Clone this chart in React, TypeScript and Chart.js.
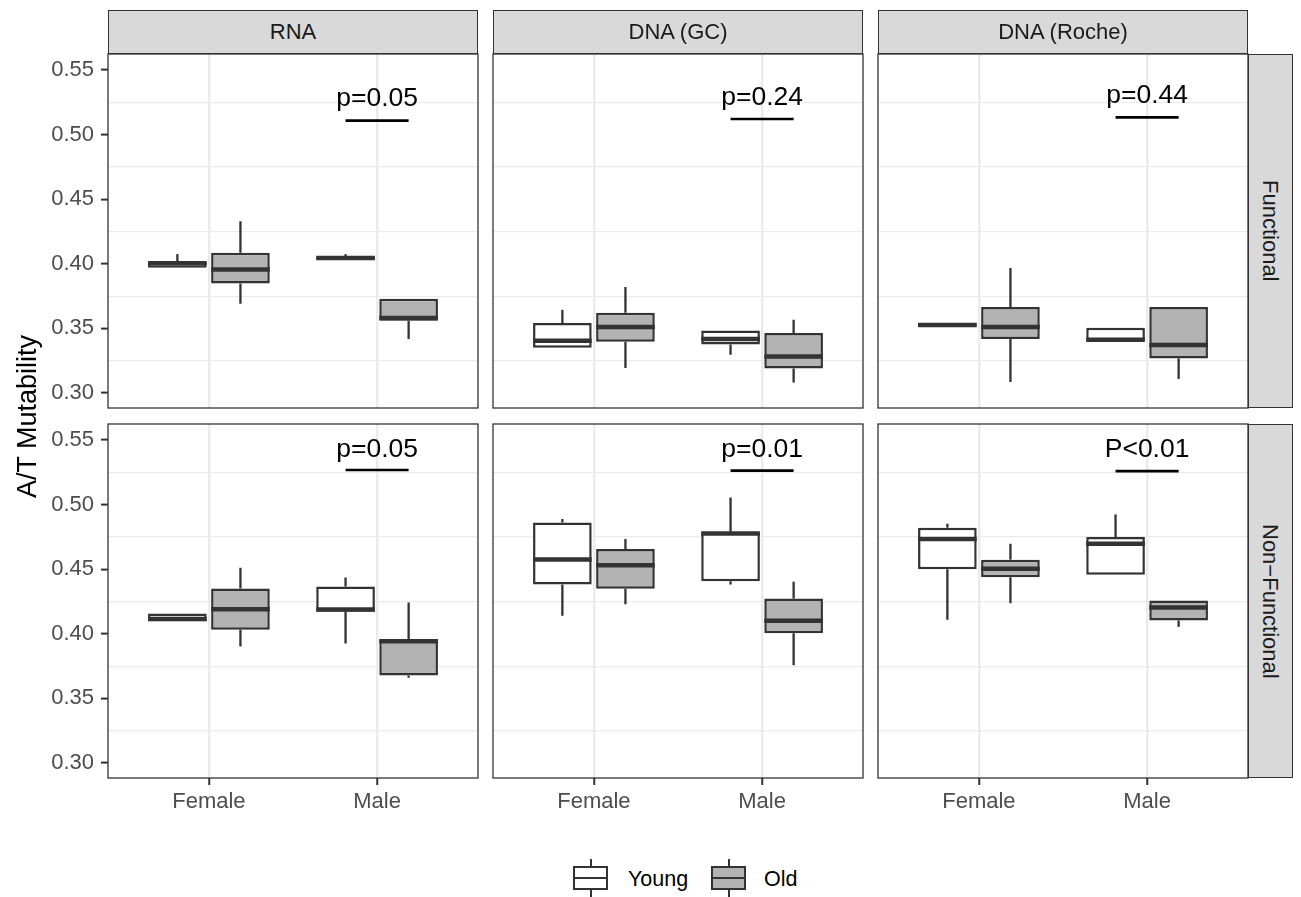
import React, { useEffect, useRef } from 'react';
import { Chart, registerables } from 'chart.js';

Chart.register(...registerables);

const FONT = '"Liberation Sans", Arial, Helvetica, sans-serif';

// ---- categories / labels ----
const SOURCES = ['RNA', 'DNA (GC)', 'DNA (Roche)'];
const REGIONS = ['Functional', 'Non\u2212Functional'];
const SEXES = ['Female', 'Male'];
const GROUPS = ['Young', 'Old'];
const GROUP_FILLS = ['#FFFFFF', '#B3B3B3'];

// ---- axis ticks ----
const Y_MAJOR = [0.3, 0.35, 0.4, 0.45, 0.5, 0.55];
const Y_MINOR = [0.325, 0.375, 0.425, 0.475, 0.525];
const Y_RANGE = [0.2884, 0.5624];
const X_RANGE = [0.4, 2.6];
const DODGE = 0.1875;

// ---- box statistics: [min, q1, median, q3, max] for [Female, Male] ----
const RNA_FUNC_YOUNG = [[0.397, 0.397, 0.4004, 0.4016, 0.4075], [0.4033, 0.4033, 0.4045, 0.4054, 0.4075]];
const RNA_FUNC_OLD = [[0.369, 0.3848, 0.3956, 0.4085, 0.433], [0.3418, 0.3559, 0.358, 0.3729, 0.3729]];
const GC_FUNC_YOUNG = [[0.335, 0.335, 0.3405, 0.3541, 0.3644], [0.3296, 0.3376, 0.3418, 0.3484, 0.3484]];
const GC_FUNC_OLD = [[0.3193, 0.3397, 0.351, 0.3621, 0.382], [0.3082, 0.319, 0.3283, 0.3464, 0.3567]];
const ROCHE_FUNC_YOUNG = [[0.3515, 0.3515, 0.3527, 0.354, 0.354], [0.3405, 0.3405, 0.3412, 0.3505, 0.3505]];
const ROCHE_FUNC_OLD = [[0.3085, 0.3418, 0.351, 0.3665, 0.3967], [0.3109, 0.3268, 0.3371, 0.3665, 0.3665]];
const RNA_NONF_YOUNG = [[0.4098, 0.4098, 0.4115, 0.4157, 0.4157], [0.3925, 0.417, 0.4188, 0.4366, 0.4436]];
const RNA_NONF_OLD = [[0.3902, 0.4031, 0.419, 0.4351, 0.4511], [0.3659, 0.3677, 0.3943, 0.3956, 0.4242]];
const GC_NONF_YOUNG = [[0.4139, 0.4382, 0.4576, 0.4862, 0.4888], [0.4382, 0.4407, 0.4777, 0.4785, 0.5056]];
const GC_NONF_OLD = [[0.4229, 0.4349, 0.4531, 0.4656, 0.4733], [0.3757, 0.4005, 0.4101, 0.4273, 0.4403]];
const ROCHE_NONF_YOUNG = [[0.4108, 0.45, 0.4733, 0.4821, 0.4852], [0.4457, 0.4457, 0.4697, 0.4749, 0.4924]];
const ROCHE_NONF_OLD = [[0.4237, 0.4438, 0.4503, 0.4573, 0.4697], [0.4054, 0.4103, 0.4204, 0.4258, 0.4258]];

const YOUNG_STATS = [RNA_FUNC_YOUNG, GC_FUNC_YOUNG, ROCHE_FUNC_YOUNG, RNA_NONF_YOUNG, GC_NONF_YOUNG, ROCHE_NONF_YOUNG];
const OLD_STATS = [RNA_FUNC_OLD, GC_FUNC_OLD, ROCHE_FUNC_OLD, RNA_NONF_OLD, GC_NONF_OLD, ROCHE_NONF_OLD];

// ---- p-value annotations (Male comparison) ----
const P_LABELS = ['p=0.05', 'p=0.24', 'p=0.44', 'p=0.05', 'p=0.01', 'P<0.01'];
const P_LINE_Y = [0.5108, 0.5121, 0.5134, 0.5268, 0.5263, 0.526];
const P_TEXT_Y = [0.5224, 0.5229, 0.5242, 0.5371, 0.5366, 0.5366];

// ---- layout (pixels) ----
const PL = [108, 493, 878];
const PW = 370;
const PT = [54, 424];
const PH = 354;
const M = 4;
const X_AXIS_H = 60;

const isMajor = (v: number) => Math.abs(v * 20 - Math.round(v * 20)) < 1e-6;

const boxPlugin = {
  id: 'boxExtras',
  beforeDatasetsDraw(chart: any) {
    const ctx = chart.ctx;
    const y = chart.scales.y;
    chart.data.datasets.forEach((ds: any, di: number) => {
      const meta = chart.getDatasetMeta(di);
      ds.stats.forEach((s: number[], i: number) => {
        const el = meta.data[i];
        ctx.save();
        ctx.strokeStyle = '#333333';
        ctx.lineWidth = 2.3;
        ctx.beginPath();
        ctx.moveTo(el.x, y.getPixelForValue(s[4]));
        ctx.lineTo(el.x, y.getPixelForValue(s[3]));
        ctx.moveTo(el.x, y.getPixelForValue(s[1]));
        ctx.lineTo(el.x, y.getPixelForValue(s[0]));
        ctx.stroke();
        ctx.restore();
      });
    });
  },
  afterDatasetsDraw(chart: any) {
    const ctx = chart.ctx;
    const x = chart.scales.x;
    const y = chart.scales.y;
    chart.data.datasets.forEach((ds: any, di: number) => {
      const meta = chart.getDatasetMeta(di);
      ds.stats.forEach((s: number[], i: number) => {
        const el = meta.data[i];
        const py = y.getPixelForValue(s[2]);
        ctx.save();
        ctx.strokeStyle = '#333333';
        ctx.lineWidth = 4.5;
        ctx.beginPath();
        ctx.moveTo(el.x - el.width / 2, py);
        ctx.lineTo(el.x + el.width / 2, py);
        ctx.stroke();
        ctx.restore();
      });
    });
    const idx = chart.options.plugins.boxExtras.index;
    // p-value bracket
    ctx.save();
    ctx.strokeStyle = '#000000';
    ctx.lineWidth = 2.7;
    ctx.beginPath();
    const ly = y.getPixelForValue(P_LINE_Y[idx]);
    ctx.moveTo(x.getPixelForValue(2 - DODGE), ly);
    ctx.lineTo(x.getPixelForValue(2 + DODGE), ly);
    ctx.stroke();
    ctx.fillStyle = '#000000';
    ctx.font = `26.5px ${FONT}`;
    ctx.textAlign = 'center';
    ctx.textBaseline = 'alphabetic';
    ctx.fillText(P_LABELS[idx], x.getPixelForValue(2), y.getPixelForValue(P_TEXT_Y[idx]));
    ctx.restore();
    // panel border
    const a = chart.chartArea;
    ctx.save();
    ctx.strokeStyle = '#333333';
    ctx.lineWidth = 1.3;
    ctx.strokeRect(a.left, a.top, a.right - a.left, a.bottom - a.top);
    ctx.restore();
  },
};

function Panel({ row, col }: { row: number; col: number }) {
  const ref = useRef<HTMLCanvasElement>(null);
  const isLeft = col === 0;
  const isBottom = row === 1;
  const left = isLeft ? 0 : PL[col] - M;
  const top = PT[row] - M;
  const width = (isLeft ? PL[0] : M) + PW + M;
  const height = M + PH + (isBottom ? X_AXIS_H : M);

  useEffect(() => {
    const idx = row * 3 + col;
    const statsByGroup = [YOUNG_STATS[idx], OLD_STATS[idx]];
    const chart = new Chart(ref.current as HTMLCanvasElement, {
      type: 'bar',
      data: {
        datasets: GROUPS.map((g, gi) => ({
          label: g,
          data: statsByGroup[gi].map((s, si) => ({ x: si + 1 + (gi === 0 ? -DODGE : DODGE), y: [s[1], s[3]] })),
          backgroundColor: GROUP_FILLS[gi],
          borderColor: '#333333',
          borderWidth: 2.5,
          borderSkipped: false,
          inflateAmount: 0,
          grouped: false,
          categoryPercentage: 1,
          barPercentage: 0.93,
          stats: statsByGroup[gi],
        })) as any,
      },
      options: {
        animation: false,
        responsive: false,
        maintainAspectRatio: false,
        devicePixelRatio: 1,
        events: [],
        layout: {
          autoPadding: false,
          padding: { left: isLeft ? 0 : M, right: M, top: M, bottom: isBottom ? 0 : M },
        },
        plugins: {
          legend: { display: false },
          tooltip: { enabled: false },
          boxExtras: { index: idx },
        } as any,
        scales: {
          x: {
            type: 'linear',
            offset: false,
            min: X_RANGE[0],
            max: X_RANGE[1],
            afterBuildTicks: (s: any) => {
              s.ticks = SEXES.map((_, i) => ({ value: i + 1 }));
            },
            afterFit: (s: any) => {
              s.height = isBottom ? X_AXIS_H : 0;
              s.paddingLeft = 0;
              s.paddingRight = 0;
            },
            ticks: {
              display: isBottom,
              autoSkip: false,
              maxRotation: 0,
              padding: 3.5,
              color: '#4D4D4D',
              font: { family: FONT, size: 22 },
              callback: (v: any) => SEXES[Math.round(Number(v)) - 1] ?? '',
            },
            grid: {
              offset: false,
              color: '#EBEBEB',
              lineWidth: 2.5,
              drawTicks: isBottom,
              tickLength: 7,
              tickColor: '#333333',
              tickWidth: 2,
            },
            border: { display: false },
          },
          y: {
            type: 'linear',
            min: Y_RANGE[0],
            max: Y_RANGE[1],
            afterBuildTicks: (s: any) => {
              s.ticks = [...Y_MAJOR, ...Y_MINOR].sort((a, b) => a - b).map((v) => ({ value: v }));
            },
            afterFit: (s: any) => {
              s.width = isLeft ? PL[0] : 0;
              s.paddingTop = 0;
              s.paddingBottom = 0;
            },
            ticks: {
              display: isLeft,
              autoSkip: false,
              padding: 7,
              color: '#4D4D4D',
              font: { family: FONT, size: 22 },
              callback: (v: any) => (isMajor(Number(v)) ? Number(v).toFixed(2) : ''),
            },
            grid: {
              color: (c: any) => (isMajor(c.tick.value) ? 'rgba(0,0,0,0)' : '#EBEBEB'),
              lineWidth: 1.2,
              drawTicks: isLeft,
              tickLength: 7,
              tickColor: (c: any) => (isMajor(c.tick.value) ? '#333333' : 'rgba(0,0,0,0)'),
              tickWidth: 2,
            },
            border: { display: false },
          },
        },
      } as any,
      plugins: [boxPlugin],
    });
    return () => chart.destroy();
  }, [row, col]);

  return (
    <canvas
      ref={ref}
      width={width}
      height={height}
      style={{ position: 'absolute', left, top, width, height }}
    />
  );
}

function LegendKey({ left, fill }: { left: number; fill: string }) {
  return (
    <div style={{ position: 'absolute', left, top: 859, width: 35, height: 38 }}>
      <div style={{ position: 'absolute', left: 16.5, top: 0, width: 2.3, height: 38, background: '#333333' }} />
      <div
        style={{
          position: 'absolute',
          left: 0,
          top: 7,
          width: 35,
          height: 24,
          boxSizing: 'border-box',
          border: '2.3px solid #333333',
          background: fill,
        }}
      />
      <div style={{ position: 'absolute', left: 0, top: 17.5, width: 35, height: 2.5, background: '#333333' }} />
    </div>
  );
}

export default function App() {
  return (
    <div
      style={{
        position: 'absolute',
        left: 0,
        top: 0,
        width: 1301,
        height: 897,
        background: '#FFFFFF',
        fontFamily: FONT,
        overflow: 'hidden',
      }}
    >
      {REGIONS.map((_, r) => SOURCES.map((_, c) => <Panel key={`${r}-${c}`} row={r} col={c} />))}

      {SOURCES.map((s, c) => (
        <div
          key={s}
          style={{
            position: 'absolute',
            left: PL[c],
            top: 10,
            width: PW,
            height: 44,
            boxSizing: 'border-box',
            border: '1px solid #333333',
            background: '#D9D9D9',
            color: '#1A1A1A',
            fontSize: 22,
            lineHeight: '42px',
            textAlign: 'center',
            whiteSpace: 'nowrap',
          }}
        >
          {s}
        </div>
      ))}

      {REGIONS.map((s, r) => (
        <div
          key={s}
          style={{
            position: 'absolute',
            left: PL[2] + PW,
            top: PT[r],
            width: 45,
            height: PH,
            boxSizing: 'border-box',
            border: '1px solid #333333',
            background: '#D9D9D9',
            display: 'flex',
            alignItems: 'center',
            justifyContent: 'center',
          }}
        >
          <span
            style={{
              writingMode: 'vertical-rl',
              color: '#1A1A1A',
              fontSize: 22,
              lineHeight: '43px',
              whiteSpace: 'nowrap',
            }}
          >
            {s}
          </span>
        </div>
      ))}

      <div
        style={{
          position: 'absolute',
          left: 7,
          top: 217,
          width: 40,
          height: 400,
          display: 'flex',
          alignItems: 'center',
          justifyContent: 'center',
        }}
      >
        <span
          style={{
            writingMode: 'vertical-rl',
            transform: 'rotate(180deg)',
            fontSize: 27,
            lineHeight: '40px',
            color: '#000000',
            whiteSpace: 'nowrap',
          }}
        >
          A/T Mutability
        </span>
      </div>

      <LegendKey left={573} fill={GROUP_FILLS[0]} />
      <div style={{ position: 'absolute', left: 628, top: 864, fontSize: 21.5, lineHeight: '30px', color: '#000000' }}>
        {GROUPS[0]}
      </div>
      <LegendKey left={711} fill={GROUP_FILLS[1]} />
      <div style={{ position: 'absolute', left: 764, top: 864, fontSize: 21.5, lineHeight: '30px', color: '#000000' }}>
        {GROUPS[1]}
      </div>
    </div>
  );
}
